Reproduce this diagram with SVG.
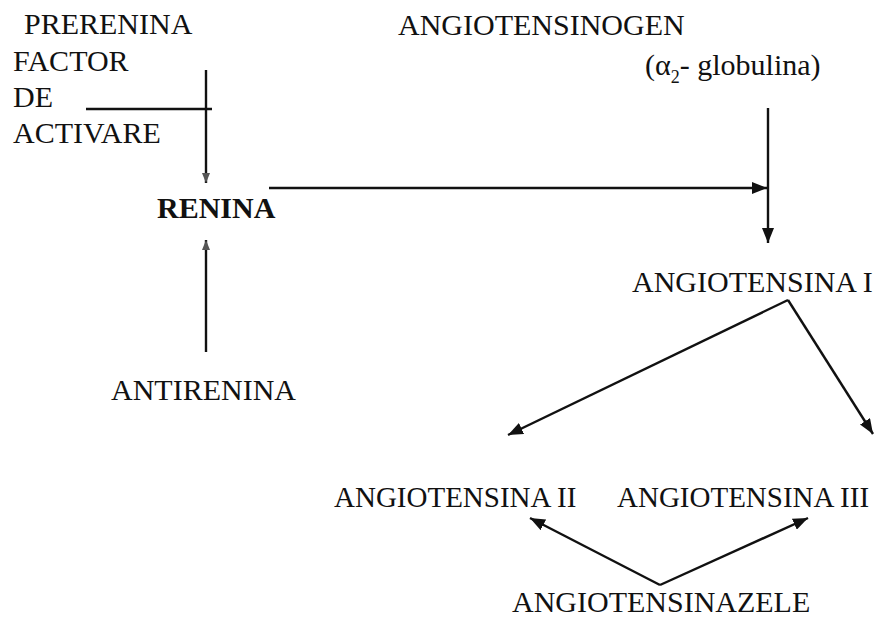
<svg xmlns="http://www.w3.org/2000/svg" width="876" height="620" viewBox="0 0 876 620">
<defs>
<style>
text{font-family:"Liberation Serif","Times New Roman",serif;font-size:30px;fill:#111}
.b{font-weight:bold}
.s{font-size:29px}
.c line,.c path{stroke:#111;stroke-width:2.4;fill:none}
</style>
<marker id="ah" viewBox="0 0 15 12" refX="15" refY="6" markerWidth="15" markerHeight="12" markerUnits="userSpaceOnUse" orient="auto">
<path d="M0,0 L15,6 L0,12 Z" fill="#111"/>
</marker>
<marker id="as" viewBox="0 0 10 8" refX="10" refY="4" markerWidth="10" markerHeight="8" markerUnits="userSpaceOnUse" orient="auto">
<path d="M0,0 L10,4 L0,8 Z" fill="#555"/>
</marker>
</defs>
<rect width="876" height="620" fill="#fff"/>
<g id="prerenina"><text x="24" y="34">PRERENINA</text></g>
<g id="factor"><text x="13" y="71">FACTOR</text><text x="13" y="107">DE</text><text x="13" y="143">ACTIVARE</text></g>
<g id="angiotensinogen"><text x="398" y="35">ANGIOTENSINOGEN</text><text x="645" y="75">(α<tspan font-size="18" dy="8">2</tspan><tspan dy="-8">- globulina)</tspan></text></g>
<g id="renina"><text class="b" x="157" y="218">RENINA</text></g>
<g id="antirenina"><text x="111" y="400">ANTIRENINA</text></g>
<g id="angiotensina1"><text x="632" y="292">ANGIOTENSINA I</text></g>
<g id="angiotensina2"><text class="s" x="334" y="507">ANGIOTENSINA II</text></g>
<g id="angiotensina3"><text class="s" x="617" y="507">ANGIOTENSINA III</text></g>
<g id="angiotensinazele"><text x="512" y="612">ANGIOTENSINAZELE</text></g>
<g class="c" id="connectors">
<line x1="86" y1="109" x2="212" y2="109"/>
<line x1="206" y1="70" x2="206" y2="183" marker-end="url(#as)"/>
<line x1="206" y1="352" x2="206" y2="240" marker-end="url(#as)"/>
<line x1="269" y1="188" x2="767" y2="188" marker-end="url(#ah)"/>
<line x1="768" y1="108" x2="768" y2="243" marker-end="url(#ah)"/>
<line x1="788" y1="300" x2="508" y2="435" marker-end="url(#ah)"/>
<line x1="788" y1="300" x2="873" y2="434" marker-end="url(#ah)"/>
<line x1="660" y1="585" x2="530" y2="518" marker-end="url(#ah)"/>
<line x1="660" y1="585" x2="808" y2="518" marker-end="url(#ah)"/>
</g>
</svg>
